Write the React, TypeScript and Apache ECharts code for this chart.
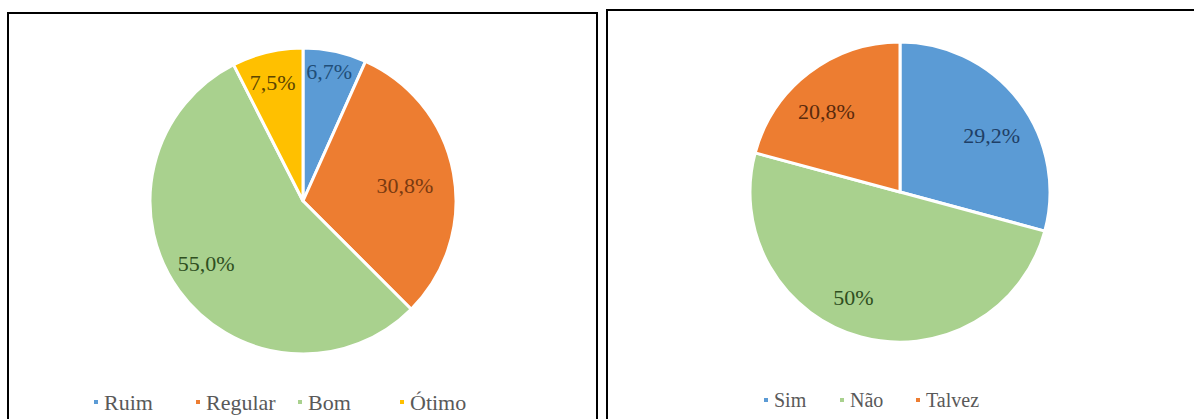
import React, { useEffect, useRef } from "react";
import * as echarts from "echarts";

const leftCategories = ["Ruim", "Regular", "Bom", "Ótimo"];
const leftValues = [6.7, 30.8, 55.0, 7.5];
const leftLabels = ["6,7%", "30,8%", "55,0%", "7,5%"];

const rightCategories = ["Sim", "Não", "Talvez"];
const rightValues = [29.2, 50, 20.8];
const rightLabels = ["29,2%", "50%", "20,8%"];

// label nudges (Excel "best fit" placement), in pixels
const leftLabelNudge: [number, number][] = [[1, -11], [-17, 6], [1, -9], [-2, -1]];
const rightLabelNudge: [number, number][] = [[2, 12], [-17, -4], [-5, 9]];

const COLORS: Record<string, string> = {
  Ruim: "#5B9BD5",
  Regular: "#ED7D31",
  Bom: "#A9D18E",
  "Ótimo": "#FFC000",
  Sim: "#5B9BD5",
  "Não": "#A9D18E",
  Talvez: "#ED7D31",
};
const LABEL_COLORS: Record<string, string> = {
  Ruim: "#1F4E79",
  Regular: "#7A3A10",
  Bom: "#2F4F1F",
  "Ótimo": "#5C4500",
  Sim: "#1F3F66",
  "Não": "#2F4F1F",
  Talvez: "#5A2A0C",
};

const FONT = "Liberation Serif, Times New Roman, serif";

function pieSeries(
  id: string,
  cats: string[],
  vals: number[],
  labels: string[],
  nudges: [number, number][],
  center: [number, number],
  r: number,
  labelR: number
) {
  const main = {
    type: "pie",
    id: id + "-main",
    center,
    radius: [0, r],
    startAngle: 90,
    clockwise: true,
    avoidLabelOverlap: false,
    label: { show: false },
    labelLine: { show: false },
    itemStyle: { borderColor: "#ffffff", borderWidth: 3 },
    emphasis: { disabled: true },
    data: cats.map((c, i) => ({
      name: c,
      value: vals[i],
      itemStyle: { color: COLORS[c] },
    })),
  };
  const overlay = {
    type: "pie",
    id: id + "-labels",
    center,
    radius: [0, labelR * 2],
    startAngle: 90,
    clockwise: true,
    silent: true,
    z: 5,
    avoidLabelOverlap: false,
    labelLine: { show: false },
    emphasis: { disabled: true },
    itemStyle: { color: "rgba(0,0,0,0)", borderWidth: 0 },
    data: cats.map((c, i) => ({
      name: c,
      value: vals[i],
      itemStyle: { color: "rgba(0,0,0,0)" },
      label: {
        show: true,
        position: "inside",
        formatter: labels[i],
        color: LABEL_COLORS[c],
        fontFamily: FONT,
        fontSize: 22,
        offset: nudges[i],
      },
    })),
  };
  return [main, overlay];
}

export default function App() {
  const ref = useRef<HTMLDivElement>(null);
  useEffect(() => {
    document.body.style.margin = "0";
    const chart = echarts.init(ref.current!, null, { renderer: "svg" });
    chart.setOption({
      animation: false,
      backgroundColor: "#ffffff",
      legend: [
        {
          data: leftCategories,
          left: 92,
          top: 391,
          padding: 0,
          icon: "rect",
          itemWidth: 6,
          itemHeight: 6,
          itemGap: 10,
          selectedMode: false,
          textStyle: {
            fontFamily: FONT,
            fontSize: 22,
            color: "#595959",
            width: 80,
            lineHeight: 22,
          },
        },
        {
          data: rightCategories,
          left: 762,
          top: 390,
          padding: 0,
          icon: "rect",
          itemWidth: 6,
          itemHeight: 6,
          itemGap: 8,
          selectedMode: false,
          textStyle: {
            fontFamily: FONT,
            fontSize: 20,
            color: "#595959",
            width: 56,
            lineHeight: 20,
          },
        },
      ],
      graphic: [
        {
          type: "rect",
          shape: { x: 8, y: 13, width: 589, height: 430 },
          style: { fill: "none", stroke: "#000", lineWidth: 2 },
          silent: true,
        },
        {
          type: "rect",
          shape: { x: 607, y: 10, width: 620, height: 430 },
          style: { fill: "none", stroke: "#000", lineWidth: 2 },
          silent: true,
        },
      ],
      series: [
        ...pieSeries("left", leftCategories, leftValues, leftLabels, leftLabelNudge, [303, 201], 153, 118),
        ...pieSeries("right", rightCategories, rightValues, rightLabels, rightLabelNudge, [900, 192], 150, 110),
      ],
    });
    return () => chart.dispose();
  }, []);
  return <div ref={ref} style={{ width: 1194, height: 419 }} />;
}
